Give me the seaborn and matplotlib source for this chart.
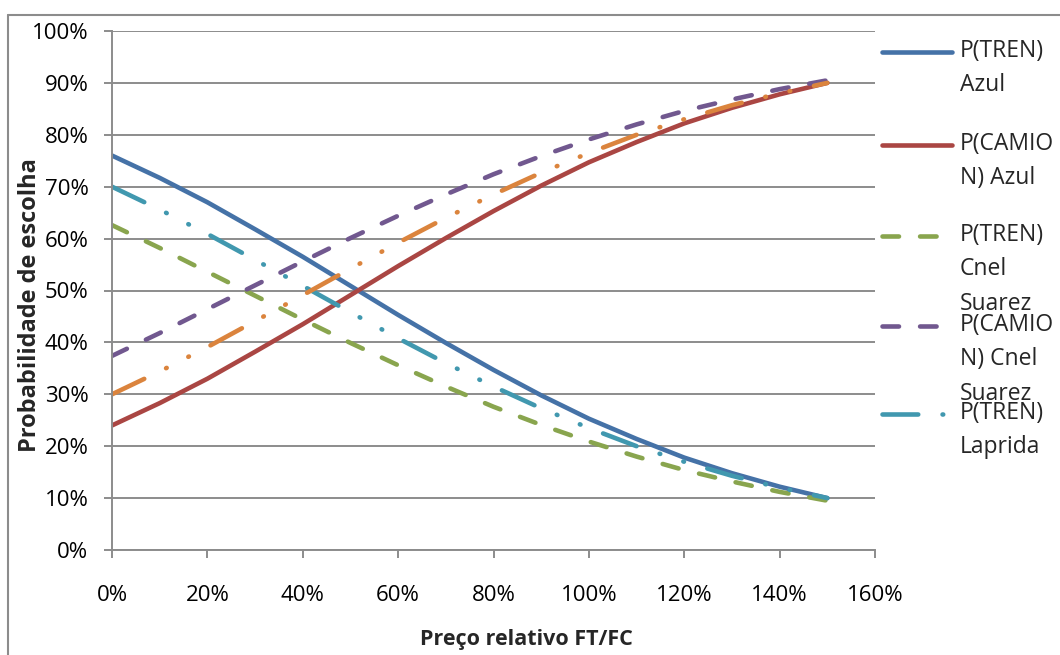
import matplotlib
matplotlib.use('Agg')

import numpy as np
import pandas as pd
import matplotlib.pyplot as plt
from matplotlib.lines import Line2D
from matplotlib.ticker import PercentFormatter
import seaborn as sns

# preço relativo FT/FC (fração)
preco = [0.0, 0.1, 0.2, 0.3, 0.4, 0.5, 0.6, 0.7, 0.8, 0.9, 1.0, 1.1, 1.2, 1.3, 1.4, 1.5]

tren_azul = [0.760, 0.717, 0.670, 0.618, 0.565, 0.509, 0.453, 0.399,
             0.347, 0.298, 0.253, 0.214, 0.178, 0.148, 0.122, 0.100]
camion_azul = [0.240, 0.283, 0.330, 0.382, 0.435, 0.491, 0.547, 0.601,
               0.653, 0.702, 0.747, 0.786, 0.822, 0.852, 0.878, 0.900]
tren_suarez = [0.626, 0.582, 0.536, 0.490, 0.444, 0.399, 0.356, 0.315,
               0.276, 0.241, 0.209, 0.180, 0.154, 0.132, 0.112, 0.095]
camion_suarez = [0.374, 0.418, 0.464, 0.510, 0.556, 0.601, 0.644, 0.685,
                 0.724, 0.759, 0.791, 0.820, 0.846, 0.868, 0.888, 0.905]
tren_laprida = [0.700, 0.656, 0.609, 0.559, 0.509, 0.458, 0.408, 0.360,
                0.315, 0.273, 0.235, 0.200, 0.170, 0.143, 0.120, 0.100]
camion_laprida = [0.300, 0.344, 0.391, 0.441, 0.491, 0.542, 0.592, 0.640,
                  0.685, 0.727, 0.765, 0.800, 0.830, 0.857, 0.880, 0.900]

series = {
    'P(TREN) Azul': tren_azul,
    'P(CAMION) Azul': camion_azul,
    'P(TREN) Cnel Suarez': tren_suarez,
    'P(CAMION) Cnel Suarez': camion_suarez,
    'P(TREN) Laprida': tren_laprida,
    'P(CAMION) Laprida': camion_laprida,
}
# rótulos como aparecem (quebrados) na legenda do Excel
legend_labels = ['P(TREN)\nAzul', 'P(CAMIO\nN) Azul', 'P(TREN)\nCnel\nSuarez',
                 'P(CAMIO\nN) Cnel\nSuarez', 'P(TREN)\nLaprida']

colors = {
    'P(TREN) Azul': '#4572A7',
    'P(CAMION) Azul': '#AA4643',
    'P(TREN) Cnel Suarez': '#89A54E',
    'P(CAMION) Cnel Suarez': '#71588F',
    'P(TREN) Laprida': '#4198AF',
    'P(CAMION) Laprida': '#DB843D',
}
dash_long = (3.6, 4.6)
dash_dot_dot = (7.8, 5.3, 0.15, 5.3, 0.15, 5.3)
dashes = {
    'P(TREN) Azul': '',
    'P(CAMION) Azul': '',
    'P(TREN) Cnel Suarez': dash_long,
    'P(CAMION) Cnel Suarez': dash_long,
    'P(TREN) Laprida': dash_dot_dot,
    'P(CAMION) Laprida': dash_dot_dot,
}

df = pd.DataFrame([
    {'preco': x, 'prob': y, 'serie': name}
    for name, vals in series.items() for x, y in zip(preco, vals)
])

sns.set_theme(style='white')
plt.rcParams['font.family'] = ['Open Sans', 'DejaVu Sans']

GRID = '#8C8C8C'
FS = 16
LW = 3.3

fig = plt.figure(figsize=(10.6, 6.55), dpi=100)
ax = fig.add_axes([112 / 1060, 1 - 550 / 655, 763 / 1060, 519 / 655])

sns.lineplot(data=df, x='preco', y='prob', hue='serie', style='serie',
             palette=colors, dashes=dashes, linewidth=LW, legend=False,
             dash_capstyle='round', solid_capstyle='round', ax=ax)

ax.set_xlim(0, 1.6)
ax.set_ylim(0, 1.0)
ax.set_xticks(np.arange(0, 1.61, 0.2))
ax.set_yticks(np.arange(0, 1.01, 0.1))
ax.xaxis.set_major_formatter(PercentFormatter(1.0, decimals=0))
ax.yaxis.set_major_formatter(PercentFormatter(1.0, decimals=0))
ax.grid(axis='y', color=GRID, linewidth=1.4)
ax.set_axisbelow(True)
for side in ['top', 'right']:
    ax.spines[side].set_visible(False)
for side in ['left', 'bottom']:
    ax.spines[side].set_color(GRID)
    ax.spines[side].set_linewidth(1.4)
ax.tick_params(axis='x', direction='out', length=6, width=1.4, color=GRID,
               pad=19, labelsize=FS, labelcolor='black', bottom=True)
ax.tick_params(axis='y', direction='out', length=6, width=1.4, color=GRID,
               pad=11, labelsize=FS, labelcolor='black', left=True)
ax.set_xlabel('')
ax.set_ylabel('')

fig.text(526 / 1060, 1 - 640 / 655, 'Preço relativo FT/FC', ha='center', va='center',
         fontsize=15.5, fontweight='bold')
fig.text(30 / 1060, 1 - 305 / 655, 'Probabilidade de escolha', ha='center', va='center',
         rotation=90, fontsize=17, fontweight='bold')

# legenda estilo Excel (entradas com espaçamento fixo, cortada)
leg_y = [52, 145, 236, 326, 414]
names = list(series.keys())[:5]
for name, lab, ypx in zip(names, legend_labels, leg_y):
    yf = 1 - ypx / 655
    ln = Line2D([882 / 1060, 952 / 1060], [yf, yf], transform=fig.transFigure,
                color=colors[name], linewidth=LW, solid_capstyle='round',
                dash_capstyle='round')
    if dashes[name]:
        ln.set_linestyle((0, dashes[name]))
    fig.add_artist(ln)
    fig.text(960 / 1060, yf + 13 / 655, lab, ha='left', va='top', fontsize=16.5,
             linespacing=1.58)

# moldura da área do gráfico
fig.add_artist(Line2D([8 / 1060, 1.0], [1 - 15 / 655, 1 - 15 / 655],
                      transform=fig.transFigure, color=GRID, linewidth=1.5))
fig.add_artist(Line2D([8 / 1060, 8 / 1060], [0, 1 - 15 / 655],
                      transform=fig.transFigure, color=GRID, linewidth=1.5))

fig.savefig('out.png', dpi=100)
plt.close(fig)
